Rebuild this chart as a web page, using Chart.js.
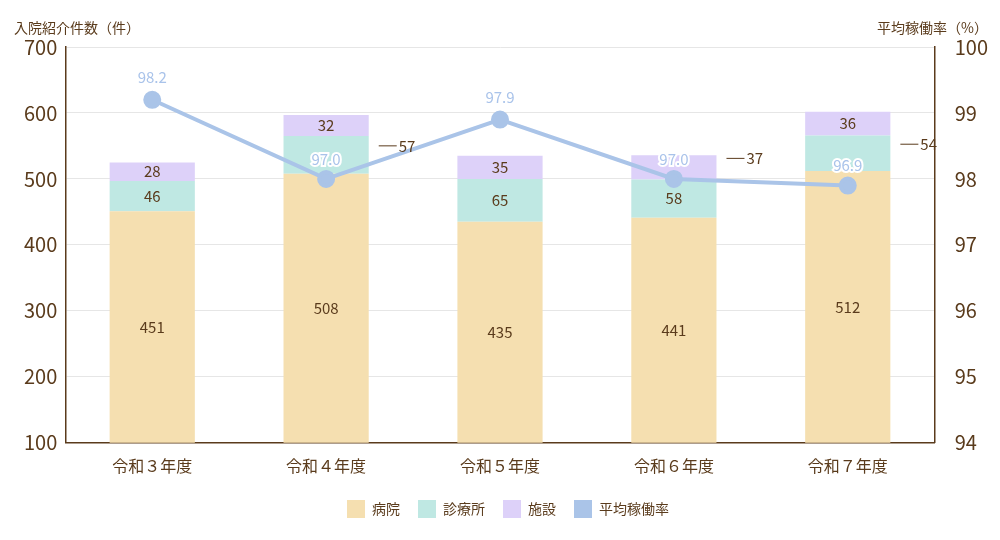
<!DOCTYPE html>
<html><head><meta charset="utf-8">
<script src="https://cdn.jsdelivr.net/npm/chart.js@4"></script>
<style>body{margin:0;background:#fff}#wrap{width:1000px;height:540px;position:relative}</style>
</head><body><div id="wrap"><canvas id="c"></canvas></div>
<script>
const years = ['令和３年度', '令和４年度', '令和５年度', '令和６年度', '令和７年度'];
const hospital = [451, 508, 435, 441, 512];
const clinic = [46, 57, 65, 58, 54];
const facility = [28, 32, 35, 37, 36];
// 表示ラベル（稼働率）
const rate = [98.2, 97.0, 97.9, 97.0, 96.9];
const leftTicks = [100, 200, 300, 400, 500, 600, 700];
const rightTicks = [94, 95, 96, 97, 98, 99, 100];
const outsideSeries = [null, 1, null, 2, 1]; // 外側に引き出すラベルの系列
const BROWN = '#5a3b1c';
const FONT = "'Noto Sans CJK JP', 'Noto Sans', sans-serif";

const labelPlugin = {
  id: 'labels',
  afterDatasetsDraw(chart) {
    const ctx = chart.ctx;
    const bottom = chart.chartArea.bottom;
    ctx.save();
    ctx.font = '15px ' + FONT;
    ctx.textAlign = 'center';
    ctx.textBaseline = 'middle';
    [0, 1, 2].forEach(di => {
      const meta = chart.getDatasetMeta(di);
      meta.data.forEach((bar, i) => {
        const v = chart.data.datasets[di].data[i];
        const cy = (bar.y + Math.min(bar.base, bottom)) / 2;
        ctx.fillStyle = BROWN;
        if (outsideSeries[i] === di) {
          const x0 = bar.x + bar.width / 2 + 10;
          const yy = cy - 9;
          ctx.strokeStyle = BROWN; ctx.lineWidth = 1;
          ctx.beginPath(); ctx.moveTo(x0, yy); ctx.lineTo(x0 + 18, yy); ctx.stroke();
          ctx.textAlign = 'left';
          ctx.fillText(v, x0 + 20, yy);
          ctx.textAlign = 'center';
          return;
        }
        ctx.fillText(v, bar.x, cy);
      });
    });
    // 稼働率ラベル
    const lm = chart.getDatasetMeta(3);
    lm.data.forEach((pt, i) => {
      const dy = (i === 0 || i === 2) ? -22 : -20;
      ctx.lineWidth = 4; ctx.strokeStyle = '#fff';
      ctx.strokeText(rate[i].toFixed(1), pt.x, pt.y + dy);
      ctx.fillStyle = '#a9c3ea';
      ctx.fillText(rate[i].toFixed(1), pt.x, pt.y + dy);
    });
    // 軸タイトル
    ctx.font = '14px ' + FONT;
    ctx.fillStyle = BROWN;
    ctx.textAlign = 'left';
    ctx.fillText('入院紹介件数（件）', 14, 28);
    ctx.textAlign = 'right';
    ctx.fillText('平均稼働率（%）', 988, 28);
    ctx.restore();
  }
};

new Chart(document.getElementById('c'), {
  data: {
    labels: years,
    datasets: [
      { type: 'bar', label: '病院', data: hospital, backgroundColor: '#f5dfb0', yAxisID: 'y', order: 2 },
      { type: 'bar', label: '診療所', data: clinic, backgroundColor: '#bfe8e3', yAxisID: 'y', order: 2 },
      { type: 'bar', label: '施設', data: facility, backgroundColor: '#ddd1f9', yAxisID: 'y', order: 2 },
      // 元図では点が目盛より約1ポイント上に描かれているため、非表示の軸（93〜99）で配置
      { type: 'line', label: '平均稼働率', data: rate, yAxisID: 'yLine', order: 1,
        borderColor: '#aac4e8', backgroundColor: '#aac4e8', borderWidth: 4,
        pointRadius: 7, pointHoverRadius: 7, tension: 0 }
    ]
  },
  options: {
    responsive: true, maintainAspectRatio: false, animation: false,
    layout: { padding: { top: 47, left: 16, right: 0, bottom: 12 } },
    datasets: { bar: { barPercentage: 0.49, categoryPercentage: 1 } },
    plugins: {
      tooltip: { enabled: false },
      legend: {
        position: 'bottom',
        labels: {
          color: BROWN, font: { family: FONT, size: 14 }, boxWidth: 18, boxHeight: 18, padding: 18,
          generateLabels: chart => chart.data.datasets.map((d, i) => ({
            text: d.label, fillStyle: d.backgroundColor, strokeStyle: d.backgroundColor,
            lineWidth: 0, fontColor: BROWN, datasetIndex: i
          }))
        }
      }
    },
    scales: {
      x: {
        stacked: true,
        ticks: { color: BROWN, font: { family: FONT, size: 16 }, padding: 6 },
        grid: { display: false },
        border: { color: BROWN, width: 1.5 }
      },
      y: {
        stacked: true, position: 'left', min: 100, max: 700,
        afterBuildTicks: s => { s.ticks = leftTicks.map(v => ({ value: v })); },
        ticks: { color: BROWN, font: { family: FONT, size: 20 }, padding: 8 },
        grid: { color: '#e6e6e6', drawTicks: false },
        border: { color: BROWN, width: 1.5 }
      },
      y2: {
        position: 'right', min: 94, max: 100,
        afterBuildTicks: s => { s.ticks = rightTicks.map(v => ({ value: v })); },
        ticks: { color: BROWN, font: { family: FONT, size: 20 }, padding: 12 },
        grid: { display: false },
        border: { color: BROWN, width: 1.5 }
      },
      yLine: { display: false, min: 93, max: 99 }
    }
  },
  plugins: [labelPlugin]
});
</script></body></html>
